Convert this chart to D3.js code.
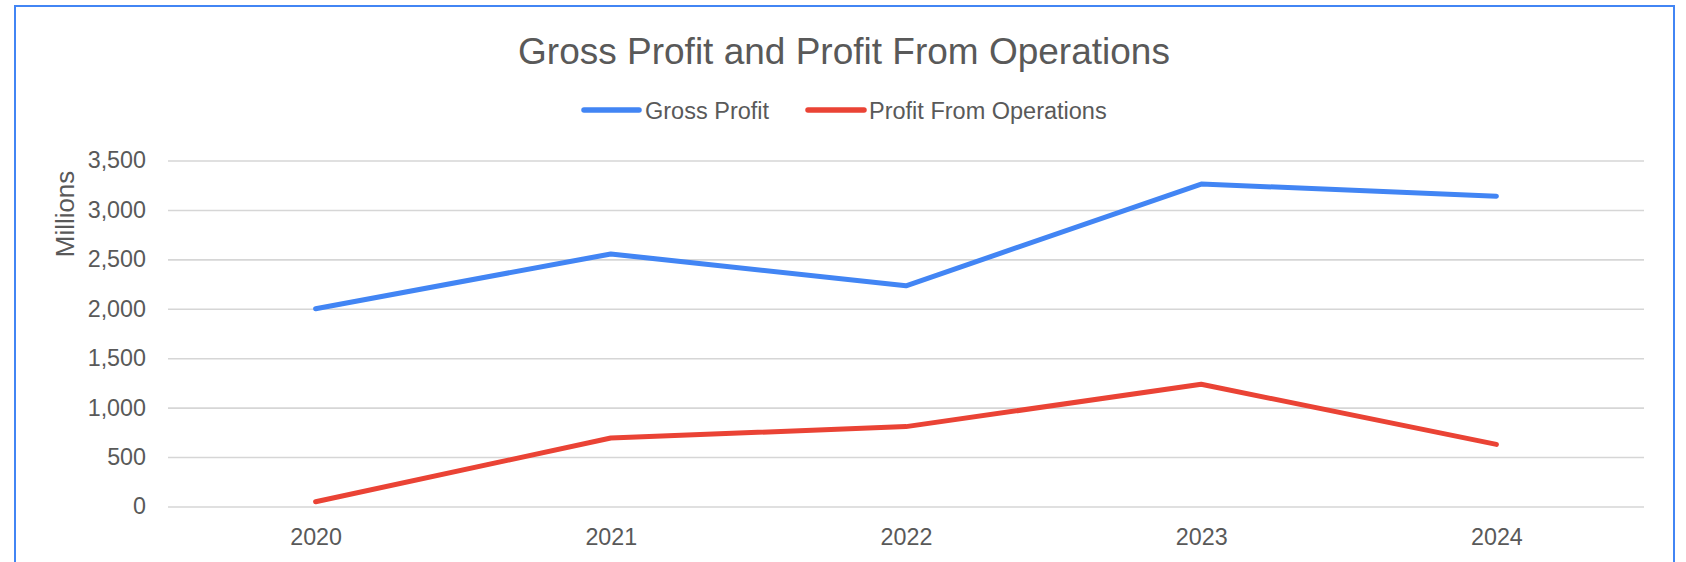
<!DOCTYPE html>
<html>
<head>
<meta charset="utf-8">
<script src="https://cdn.jsdelivr.net/npm/d3@7"></script>
<style>
  html, body { margin: 0; padding: 0; background: #fff; }
  svg { display: block; }
  text { font-family: "Liberation Sans", Arial, sans-serif; fill: #595959; }
</style>
</head>
<body>
<svg id="chart" width="1686" height="562"></svg>
<script>
const categories = ["2020", "2021", "2022", "2023", "2024"];
const grossProfit = [2000, 2555, 2232, 3262, 3139];
const profitFromOperations = [48, 693, 808, 1236, 628];
const yTicks = [0, 500, 1000, 1500, 2000, 2500, 3000, 3500];
const seriesNames = ["Gross Profit", "Profit From Operations"];
const seriesColors = ["#4285F4", "#EA4335"];

const svg = d3.select("#chart");
const plot = { left: 168, right: 1644, top: 160.5, bottom: 506.5 };

// outer border
svg.append("rect")
  .attr("x", 15).attr("y", 6)
  .attr("width", 1659).attr("height", 620)
  .attr("fill", "none")
  .attr("stroke", "#4285F4")
  .attr("stroke-width", 2);

const x = d3.scalePoint().domain(categories)
  .range([plot.left, plot.right]).padding(0.5);
const y = d3.scaleLinear().domain([0, 3500])
  .range([plot.bottom, plot.top]);

// gridlines + y labels
const yAxisG = svg.append("g")
  .attr("transform", `translate(${plot.left},0)`)
  .call(d3.axisLeft(y).tickValues(yTicks)
    .tickSize(-(plot.right - plot.left))
    .tickPadding(22)
    .tickFormat(d3.format(",")));
yAxisG.select(".domain").remove();
yAxisG.selectAll(".tick line")
  .attr("stroke", "#d6d6d6").attr("stroke-width", 1.6);
yAxisG.selectAll(".tick text")
  .attr("font-size", 23.3)
  .attr("font-family", "Liberation Sans, Arial, sans-serif")
  .attr("fill", "#595959");

// x axis labels
const xAxisG = svg.append("g")
  .attr("transform", `translate(0,${plot.bottom})`)
  .call(d3.axisBottom(x).tickSize(0).tickPadding(22));
xAxisG.select(".domain").remove();
xAxisG.selectAll(".tick text")
  .attr("font-size", 23.3)
  .attr("font-family", "Liberation Sans, Arial, sans-serif")
  .attr("fill", "#595959");

// lines
const line = d3.line()
  .x((d, i) => x(categories[i]))
  .y(d => y(d));
[grossProfit, profitFromOperations].forEach((vals, k) => {
  svg.append("path")
    .datum(vals)
    .attr("d", line)
    .attr("fill", "none")
    .attr("stroke", seriesColors[k])
    .attr("stroke-width", 5)
    .attr("stroke-linecap", "round")
    .attr("stroke-linejoin", "round");
});

// title
svg.append("text")
  .attr("x", 844).attr("y", 63.5)
  .attr("text-anchor", "middle")
  .attr("font-size", 37)
  .text("Gross Profit and Profit From Operations");

// y axis title
svg.append("text")
  .attr("transform", "translate(74,214) rotate(-90)")
  .attr("text-anchor", "middle")
  .attr("font-size", 25.9)
  .text("Millions");

// legend
const legendItems = [
  { x1: 584, x2: 639, tx: 645 },
  { x1: 808, x2: 864, tx: 869 }
];
legendItems.forEach((it, k) => {
  svg.append("line")
    .attr("x1", it.x1).attr("x2", it.x2)
    .attr("y1", 110).attr("y2", 110)
    .attr("stroke", seriesColors[k])
    .attr("stroke-width", 5.5)
    .attr("stroke-linecap", "round");
  svg.append("text")
    .attr("x", it.tx).attr("y", 118.5)
    .attr("font-size", 23.5)
    .text(seriesNames[k]);
});
</script>
</body>
</html>
